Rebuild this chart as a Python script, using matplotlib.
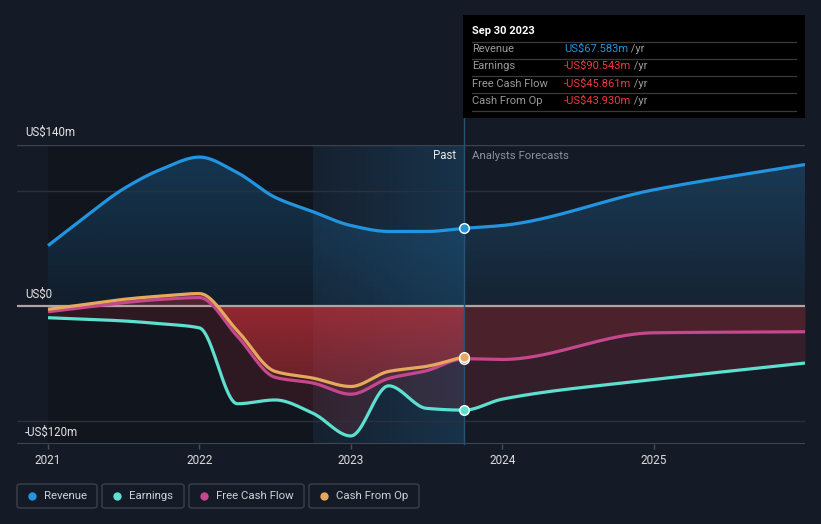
import numpy as np
import matplotlib
matplotlib.use("Agg")
import matplotlib.pyplot as plt
from matplotlib.patches import Rectangle, FancyBboxPatch
from matplotlib.lines import Line2D
from matplotlib.text import Annotation

plt.rcParams['font.family'] = ['Roboto', 'DejaVu Sans']

# ---------------- data (US$ m) ----------------
past_x = [2021.0, 2021.25, 2021.5, 2021.75, 2022.0, 2022.25, 2022.5, 2022.75,
          2023.0, 2023.25, 2023.5, 2023.75]
revenue_past = [52.5, 78, 102, 119, 129.5, 116, 94.5, 82, 70, 64.8, 64.8, 67.583]
earnings_past = [-10.2, -11.5, -13, -15.5, -19, -85, -81.7, -93.3, -113, -69.4, -89, -90.543]
fcf_past = [-5, -1, 2.9, 5.8, 7.3, -26.2, -62, -67, -76.7, -63, -56.3, -45.861]
cfo_past = [-2.9, 1.5, 5.8, 8.7, 10.8, -21.3, -56.9, -62.7, -70, -56.9, -52.5, -43.93]

fc_x = [2023.75, 2024.0, 2025.0, 2026.0]
revenue_fc = [67.583, 70, 101, 123]
earnings_fc = [-90.543, -81, -64, -49.6]
fcf_fc = [-45.861, -46.5, -23.3, -22.4]

year_ticks = [2021, 2022, 2023, 2024, 2025]
year_labels = ["2021", "2022", "2023", "2024", "2025"]
y_labels = ["US$140m", "US$0", "-US$120m"]

tooltip_title = "Sep 30 2023"
tooltip_rows = ["Revenue", "Earnings", "Free Cash Flow", "Cash From Op"]
tooltip_vals = ["US$67.583m", "-US$90.543m", "-US$45.861m", "-US$43.930m"]
legend_names = ["Revenue", "Earnings", "Free Cash Flow", "Cash From Op"]

# ---------------- style ----------------
BG = '#151b26'
C_REV = '#2394df'
C_EARN = '#5de0cf'
C_FCF = '#c5478d'
C_CFO = '#e6a95b'
C_RED = '#e0343c'

W, H = 821, 524
fx = lambda px: px / W
fy = lambda py: 1 - py / H


def smooth(x, y, n=400):
    x = np.asarray(x, float)
    y = np.asarray(y, float)
    h = np.diff(x)
    d = np.diff(y) / h
    m = np.zeros_like(y)
    for k in range(1, len(x) - 1):
        if d[k - 1] * d[k] > 0:
            w1 = 2 * h[k] + h[k - 1]
            w2 = h[k] + 2 * h[k - 1]
            m[k] = (w1 + w2) / (w1 / d[k - 1] + w2 / d[k])
    m[0] = d[0]
    m[-1] = d[-1]
    xs = np.linspace(x[0], x[-1], n)
    idx = np.clip(np.searchsorted(x, xs, side='right') - 1, 0, len(h) - 1)
    t = (xs - x[idx]) / h[idx]
    h00 = 2 * t**3 - 3 * t**2 + 1
    h10 = t**3 - 2 * t**2 + t
    h01 = -2 * t**3 + 3 * t**2
    h11 = t**3 - t**2
    ys = h00 * y[idx] + h10 * h[idx] * m[idx] + h01 * y[idx + 1] + h11 * h[idx] * m[idx + 1]
    return xs, ys


fig = plt.figure(figsize=(W / 100, H / 100), dpi=100, facecolor=BG)
ax = fig.add_axes([fx(17), 1 - 444 / H, (805 - 17) / W, (444 - 145) / H])
ax.set_facecolor(BG)
XMIN, XMAX = 2021 - 31 / 151.4, 2026.0
YMIN, YMAX = -120, 140

rev_x, rev_y = smooth(past_x + fc_x[1:], revenue_past + revenue_fc[1:])
ear_x, ear_y = smooth(past_x + fc_x[1:], earnings_past + earnings_fc[1:])
fcf_x, fcf_y = smooth(past_x + fc_x[1:], fcf_past + fcf_fc[1:])
cfo_x, cfo_y = smooth(past_x, cfo_past)


def gradient_fill(x, y1, y2, color, a_top, a_bot, y_top, y_bot, zorder):
    poly = ax.fill_between(x, y1, y2, facecolor='none', edgecolor='none', zorder=zorder)
    rgb = matplotlib.colors.to_rgb(color)
    n = 256
    alphas = np.linspace(a_top, a_bot, n)
    img = np.zeros((n, 2, 4))
    img[:, :, 0] = rgb[0]
    img[:, :, 1] = rgb[1]
    img[:, :, 2] = rgb[2]
    img[:, :, 3] = alphas[:, None]
    im = ax.imshow(img, extent=[x[0], x[-1], y_bot, y_top], origin='upper',
                   aspect='auto', zorder=zorder, interpolation='bilinear')
    im.set_clip_path(poly.get_paths()[0], transform=ax.transData)


# past dark overlay
ax.add_patch(Rectangle((2021.0, YMIN), 2022.75 - 2021.0, YMAX - YMIN,
                       facecolor='black', alpha=0.2, edgecolor='none', zorder=0.5))
# highlight band (last 4 quarters) - horizontal gradient
hl = np.zeros((2, 256, 4))
rgb = matplotlib.colors.to_rgb(C_REV)
hl[:, :, 0], hl[:, :, 1], hl[:, :, 2] = rgb
hl[:, :, 3] = np.linspace(0.05, 0.2, 256)[None, :]
ax.imshow(hl, extent=[2022.75, 2023.75, YMIN, YMAX], aspect='auto', zorder=0.6,
          interpolation='bilinear')

# revenue fill (vertical gradient)
gradient_fill(rev_x, rev_y, 0, C_REV, 0.26, 0.07, 130, 0, 1)

# negative fills
ax.fill_between(ear_x, np.minimum(ear_y, 0), 0, color=C_RED, alpha=0.15, lw=0, zorder=1.1)
ax.fill_between(fcf_x, np.minimum(fcf_y, 0), 0, color=C_RED, alpha=0.14, lw=0, zorder=1.2)
gradient_fill(cfo_x, np.minimum(cfo_y, 0), 0, C_RED, 0.5, 0.12, 0, -90, 1.3)
ax.fill_between(cfo_x, np.maximum(cfo_y, 0), 0, color=C_RED, alpha=0.3, lw=0, zorder=1.3)

# grid lines
ax.axhline(140, color='#3c424e', lw=1, zorder=1.5)
ax.axhline(100, color='#2b313c', lw=1, zorder=1.5)
ax.axhline(-100, color='#2b313c', lw=1, zorder=1.5)
ax.axhline(-120, color='#4a505b', lw=1.2, zorder=1.5)
ax.axhline(0, color='#b0a2a5', lw=1.6, zorder=1.6)

# divider line at Sep 30 2023
ax.axvline(2023.75, ymin=0, ymax=(444 - 118) / (444 - 145), color='#275274',
           lw=1, zorder=1.7, clip_on=False)

# series lines
ax.plot(rev_x, rev_y, color=C_REV, lw=2.3, zorder=3, solid_capstyle='butt')
ax.plot(ear_x, ear_y, color=C_EARN, lw=2.3, zorder=3.1, solid_capstyle='butt')
ax.plot(fcf_x, fcf_y, color=C_FCF, lw=2.3, zorder=3.2, solid_capstyle='butt')
ax.plot(cfo_x, cfo_y, color=C_CFO, lw=2.3, zorder=3.3, solid_capstyle='butt')

# markers at last reported point
for yv, c, z in [(revenue_past[-1], C_REV, 4), (earnings_past[-1], C_EARN, 4.1),
                 (fcf_past[-1], C_FCF, 4.2), (cfo_past[-1], C_CFO, 4.3)]:
    ax.scatter([past_x[-1]], [yv], s=48, color=c, edgecolor='white', linewidth=1,
               zorder=z)

ax.set_xlim(XMIN, XMAX)
ax.set_ylim(YMIN, YMAX)
for s in ax.spines.values():
    s.set_visible(False)
ax.set_yticks([])
ax.set_xticks(year_ticks)
ax.set_xticklabels(year_labels)
ax.tick_params(axis='x', length=3.5, width=1, color='#4a505b', pad=3.5,
               labelsize=8.5, labelcolor='#dcdcdc')

# y labels
fig.text(fx(25), fy(132), y_labels[0], color='#e4e4e4', fontsize=8.3, va='center', ha='left')
fig.text(fx(25), fy(294), y_labels[1], color='#e4e4e4', fontsize=8.3, va='center', ha='left')
fig.text(fx(25), fy(432), y_labels[2], color='#e4e4e4', fontsize=8.3, va='center', ha='left')

# past / forecast labels
fig.text(fx(456), fy(156), "Past", color='#e8e8e8', fontsize=8.3, va='center', ha='right')
fig.text(fx(472), fy(156), "Analysts Forecasts", color='#8c919b', fontsize=8.2,
         va='center', ha='left')

# tooltip
fig.patches.append(Rectangle((fx(463), fy(118)), (805 - 463) / W, (118 - 15) / H,
                             transform=fig.transFigure, facecolor='black',
                             edgecolor='none', zorder=5))
fig.text(fx(472), fy(31), tooltip_title, color='white', fontsize=8,
         fontweight='bold', va='center', ha='left', zorder=6)
for ly in [41.7, 58.5, 75.7, 93.3, 111]:
    fig.lines.append(Line2D([fx(472), fx(796)], [fy(ly), fy(ly)], transform=fig.transFigure,
                            color='#3a3a3a', lw=0.9, zorder=6))
row_y = [49.3, 66.2, 84, 101.2]
val_colors = [C_REV, '#ee3b3f', '#ee3b3f', '#ee3b3f']
for name, val, ry, vc in zip(tooltip_rows, tooltip_vals, row_y, val_colors):
    fig.text(fx(472), fy(ry), name, color='#9a9a9a', fontsize=8, va='center',
             ha='left', zorder=6)
    t = fig.text(fx(564), fy(ry), val, color=vc, fontsize=8, va='center',
                 ha='left', zorder=6)
    fig.add_artist(Annotation(" /yr", xy=(1, 0.5), xycoords=t, va='center', ha='left',
                              color='#9a9a9a', fontsize=8, zorder=6))

# legend boxes
boxes = [(17, 97), (102, 184), (189, 304), (309, 419)]
colors = [C_REV, C_EARN, C_FCF, C_CFO]
for (x0, x1), name, c in zip(boxes, legend_names, colors):
    fig.patches.append(FancyBboxPatch((fx(x0), fy(508)), (x1 - x0) / W, 24 / H,
                                      boxstyle="round,pad=0,rounding_size=0.004",
                                      transform=fig.transFigure, facecolor='none',
                                      edgecolor='#3b414c', lw=1))
    fig.lines.append(Line2D([fx(x0 + 15)], [fy(496)], transform=fig.transFigure,
                            marker='o', markersize=6, markerfacecolor=c,
                            markeredgecolor='none', linestyle='none'))
    fig.text(fx(x0 + 27), fy(496), name, color='#cfd2d8', fontsize=8.2,
             va='center', ha='left')

fig.savefig("out.png", dpi=100, facecolor=BG)
